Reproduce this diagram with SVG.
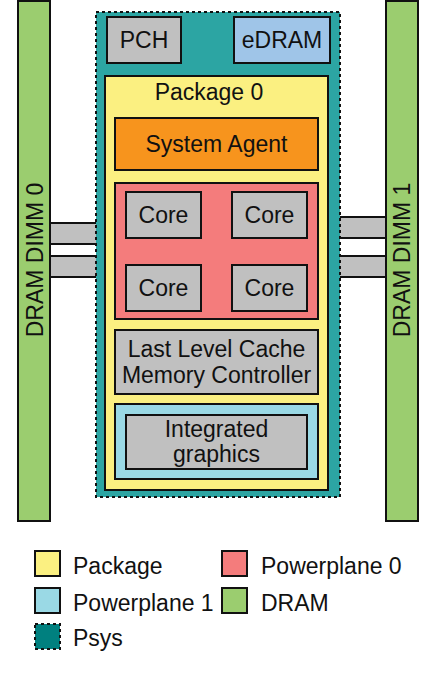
<svg xmlns="http://www.w3.org/2000/svg" width="426" height="680" viewBox="0 0 426 680">
<style>
text{font-family:"Liberation Sans",Arial,sans-serif;font-size:23px;fill:#111}
.c{text-anchor:middle}
.b{stroke:#111;stroke-width:2}
.gray{fill:#c0c0c0}
.dram{fill:#9bcd6f}
.pkg{fill:#fbf081}
.pp0{fill:#f47c7c}
.pp1{fill:#9ad9e5}
.bar{fill:#c0c0c0;stroke:none}
.ln{stroke:#111;stroke-width:2}
</style>
<rect width="426" height="680" fill="#fff"/>
<g id="connectors">
<rect class="bar" x="50" y="223" width="46" height="21"/>
<line class="ln" x1="50" y1="223" x2="96" y2="223"/><line class="ln" x1="50" y1="244" x2="96" y2="244"/>
<rect class="bar" x="50" y="256" width="46" height="21"/>
<line class="ln" x1="50" y1="256" x2="96" y2="256"/><line class="ln" x1="50" y1="277" x2="96" y2="277"/>
<rect class="bar" x="340" y="217" width="46" height="21"/>
<line class="ln" x1="340" y1="217" x2="386" y2="217"/><line class="ln" x1="340" y1="238" x2="386" y2="238"/>
<rect class="bar" x="340" y="256" width="46" height="21"/>
<line class="ln" x1="340" y1="256" x2="386" y2="256"/><line class="ln" x1="340" y1="277" x2="386" y2="277"/>
</g>
<g id="dimm0">
<rect class="dram b" x="18" y="1" width="32" height="520"/>
<text class="c" transform="translate(42.5,260) rotate(-90)">DRAM DIMM 0</text>
</g>
<g id="dimm1">
<rect class="dram b" x="386" y="1" width="32" height="520"/>
<text class="c" transform="translate(410,260) rotate(-90)">DRAM DIMM 1</text>
</g>
<g id="psys">
<rect x="96" y="12" width="244" height="485" fill="#2ca5a3" stroke="#111" stroke-width="2" stroke-dasharray="3,3"/>
</g>
<g id="pch">
<rect class="gray b" x="107" y="17" width="74" height="46"/>
<text class="c" x="144" y="48">PCH</text>
</g>
<g id="edram">
<rect class="b" x="234" y="17" width="96" height="46" fill="#9fc5e8"/>
<text class="c" x="282" y="48">eDRAM</text>
</g>
<g id="package0">
<rect class="pkg b" x="105" y="76" width="223" height="414"/>
<text class="c" x="209" y="100">Package 0</text>
</g>
<g id="system-agent">
<rect class="b" x="115" y="118" width="203" height="52" fill="#f7941d"/>
<text class="c" x="216.5" y="152">System Agent</text>
</g>
<g id="powerplane0">
<rect class="pp0 b" x="115" y="183" width="203" height="136"/>
</g>
<g id="core1"><rect class="gray b" x="126" y="192" width="75" height="46"/><text class="c" x="163.5" y="223">Core</text></g>
<g id="core2"><rect class="gray b" x="232" y="192" width="75" height="46"/><text class="c" x="269.5" y="223">Core</text></g>
<g id="core3"><rect class="gray b" x="126" y="265" width="75" height="46"/><text class="c" x="163.5" y="296">Core</text></g>
<g id="core4"><rect class="gray b" x="232" y="265" width="75" height="46"/><text class="c" x="269.5" y="296">Core</text></g>
<g id="llc">
<rect class="gray b" x="115" y="330" width="203" height="64"/>
<text class="c" x="216.5" y="357">Last Level Cache</text>
<text class="c" x="216.5" y="383">Memory Controller</text>
</g>
<g id="powerplane1">
<rect class="pp1 b" x="115" y="404" width="203" height="75"/>
</g>
<g id="graphics">
<rect class="gray b" x="126" y="415" width="181" height="54"/>
<text class="c" x="216.5" y="437">Integrated</text>
<text class="c" x="216.5" y="462">graphics</text>
</g>
<g id="legend">
<rect class="pkg b" x="35" y="551" width="25" height="25"/>
<text x="73" y="574">Package</text>
<rect class="pp1 b" x="35" y="588" width="25" height="25"/>
<text x="73" y="611">Powerplane 1</text>
<rect x="35" y="624" width="25" height="25" fill="#00807f" stroke="#111" stroke-width="2" stroke-dasharray="3,3"/>
<text x="73" y="646">Psys</text>
<rect class="pp0 b" x="222" y="551" width="25" height="25"/>
<text x="261" y="574">Powerplane 0</text>
<rect class="dram b" x="222" y="588" width="25" height="25"/>
<text x="261" y="611">DRAM</text>
</g>
</svg>
